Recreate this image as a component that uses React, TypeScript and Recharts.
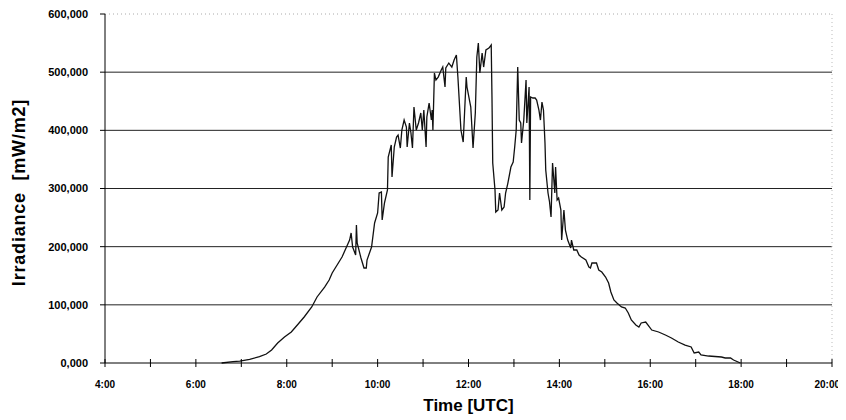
import React from 'react';
import { LineChart, Line, XAxis, YAxis, ReferenceLine } from 'recharts';

// Time of day in minutes after midnight (UTC)
const minutes = [
  394, 409, 418, 431, 444, 453, 460, 468, 477, 486,
  494, 503, 513, 520, 530, 536, 540, 553, 563, 565,
  567, 571, 572, 573, 578, 582, 585, 586, 592, 596,
  600, 602, 605, 606, 609, 613, 614, 618, 619, 622,
  625, 627, 630, 632, 635, 638, 639, 642, 644, 646,
  648, 651, 654, 657, 659, 661, 664, 665, 668, 671,
  672, 673, 675, 677, 680, 684, 686, 689, 690, 694,
  698, 701, 704, 706, 710, 713, 717, 718, 723, 726,
  729, 731, 733, 735, 738, 740, 743, 747, 750, 751,
  752, 755, 756, 759, 761, 764, 767, 769, 772, 776,
  779, 781, 783, 785, 787, 789, 790, 793, 796, 797,
  800, 801, 802, 805, 808, 810, 813, 815, 817, 819,
  821, 822, 825, 827, 829, 831, 834, 835, 837, 839,
  842, 843, 846, 848, 851, 855, 856, 859, 863, 866,
  869, 875, 879, 881, 883, 889, 892, 896, 901, 905,
  908, 912, 916, 922, 927, 931, 935, 941, 945, 948,
  954, 962, 971, 980, 988, 997, 1006, 1014, 1018, 1024,
  1027, 1037, 1054, 1059, 1066, 1070, 1076, 1079,
];

// Irradiance readings
const irradiance = [
  0, 2.2, 3.4, 6.4, 10.8, 15.5, 22.3, 34.4, 44.7, 53.3,
  65.3, 79.1, 96.3, 113.5, 130.6, 142.7, 154.7, 182.2, 211.4, 223.5,
  199.4, 185.7, 237.2, 206.3, 180.5, 163.3, 163.3, 177, 199.4, 240.7,
  257.9, 292.2, 294, 245.8, 275, 297.4, 354.1, 374.8, 319.7, 371.3,
  388.5, 391.9, 369.6, 400.5, 417.7, 405.7, 371.3, 412.6, 395.4, 369.6,
  440.1, 400.5, 412.6, 429.8, 400.5, 434.9, 371.3, 422.9, 446.9, 417.7,
  434.9, 400.5, 498.5, 486.5, 491.6, 503.7, 508.8, 474.5, 507.1, 515.7,
  508.8, 520.9, 529.5, 491.6, 400.5, 379.9, 491.6, 474.5, 440.1, 369.6,
  429.8, 526, 550.1, 498.5, 532.9, 508.8, 538.1, 541.5, 546.7, 457.3,
  343.8, 297.4, 259.6, 263, 292.2, 263, 268.2, 292.2, 309.4, 336.9,
  345.5, 371.3, 400.5, 508.8, 417.7, 412.6, 378.2, 417.7, 486.5, 412.6,
  474.5, 280.2, 457.3, 455.6, 455.6, 452.1, 434.9, 417.7, 448.7, 434.9,
  378.2, 331.8, 292.2, 276.8, 251, 343.8, 292.2, 336.9, 280.2, 283.6,
  263, 211.4, 263, 228.6, 211.4, 197.7, 211.4, 194.3, 194.3, 185.7,
  182.2, 177, 165, 163.3, 171.9, 171.9, 159.9, 156.4, 147.8, 137.5,
  122.1, 108.3, 103.1, 96.3, 94.5, 86, 73.9, 65.3, 61.9, 68.8,
  70.5, 56.7, 53.3, 48.1, 43, 36.1, 30.9, 27.5, 17.2, 18.9,
  13.8, 12, 10.3, 8.6, 8.6, 5.2, 1.7, 0,
];

const hourTicks = [240, 300, 360, 420, 480, 540, 600, 660, 720, 780, 840, 900, 960, 1020, 1080, 1140, 1200];
const valueTicks = [0, 100, 200, 300, 400, 500, 600];
const gridValues = [100, 200, 300, 400, 500];

const data = minutes.map((t, i) => ({ t, v: irradiance[i] }));

const FONT = '"Liberation Sans", Arial, sans-serif';
const LAST_HOUR = hourTicks[hourTicks.length - 1];

const formatValue = (v: number) => v.toFixed(3).replace('.', ',');

// Hour ticks cross the axis; only even hours carry a label.
// The final label is right-aligned so it stays inside the frame.
const TimeTick = (props: any) => {
  const { x, y, payload } = props;
  const h = payload.value / 60;
  const label = h % 2 === 0 ? `${h}:00` : '';
  const isLast = payload.value === LAST_HOUR;
  return (
    <g>
      <line x1={x} x2={x} y1={y - 4} y2={y + 4} stroke="#000" strokeWidth={1} />
      {label && (
        <text x={isLast ? x + 8 : x} y={y + 25} textAnchor={isLast ? 'end' : 'middle'}
          fontFamily={FONT} fontWeight="bold" fontSize={10} fill="#000">
          {label}
        </text>
      )}
    </g>
  );
};

const YTitle = (props: any) => {
  const vb = props.viewBox || {};
  const cx = 11;
  const cy = (vb.y || 0) + (vb.height || 0) / 2 + 4;
  return (
    <text transform={`translate(${cx}, ${cy}) rotate(-90)`} textAnchor="middle" dominantBaseline="central"
      fontFamily={FONT} fontWeight="bold" fontSize={18} letterSpacing={0.8} fill="#000"
      style={{ whiteSpace: 'pre' }}>
      {'Irradiance  [mW/m2]'}
    </text>
  );
};

const XTitle = (props: any) => {
  const vb = props.viewBox || {};
  const cx = (vb.x || 0) + (vb.width || 0) / 2;
  const by = (vb.y || 0) + 48;
  return (
    <text x={cx} y={by} textAnchor="middle" fontFamily={FONT} fontWeight="bold" fontSize={17} fill="#000">
      Time [UTC]
    </text>
  );
};

export default function App() {
  return (
    <div style={{ background: '#fff', width: 830, height: 412 }}>
      {/* no scrollbars; let axis labels run past the chart box */}
      <style>{'html { overflow: hidden; } .recharts-wrapper, .recharts-surface { overflow: visible !important; }'}</style>
      <LineChart width={830} height={412} data={data} margin={{ top: 6, right: 6, bottom: 0, left: 0 }}>
        {gridValues.map((g) => (
          <ReferenceLine key={g} y={g} stroke="#222" strokeWidth={1} ifOverflow="visible" />
        ))}
        <ReferenceLine y={600} stroke="#aaa" strokeDasharray="1 3" strokeWidth={1} />
        <ReferenceLine x={1200} stroke="#bbb" strokeDasharray="1 3" strokeWidth={1} />
        <XAxis
          dataKey="t"
          type="number"
          domain={[240, 1200]}
          ticks={hourTicks}
          interval={0}
          tickLine={false}
          tickSize={0}
          tickMargin={0}
          tick={<TimeTick />}
          axisLine={{ stroke: '#000', strokeWidth: 1 }}
          height={57}
          label={{ content: <XTitle /> }}
        />
        <YAxis
          type="number"
          domain={[0, 600]}
          ticks={valueTicks}
          interval={0}
          width={97}
          tickSize={5}
          tickMargin={12}
          tickLine={{ stroke: '#000' }}
          axisLine={{ stroke: '#000', strokeWidth: 1 }}
          tickFormatter={formatValue}
          tick={{ fontFamily: FONT, fontWeight: 'bold', fontSize: 11, fill: '#000' }}
          label={{ content: <YTitle /> }}
        />
        <Line
          type="linear"
          dataKey="v"
          stroke="#111"
          strokeWidth={1.3}
          dot={false}
          isAnimationActive={false}
        />
      </LineChart>
    </div>
  );
}
